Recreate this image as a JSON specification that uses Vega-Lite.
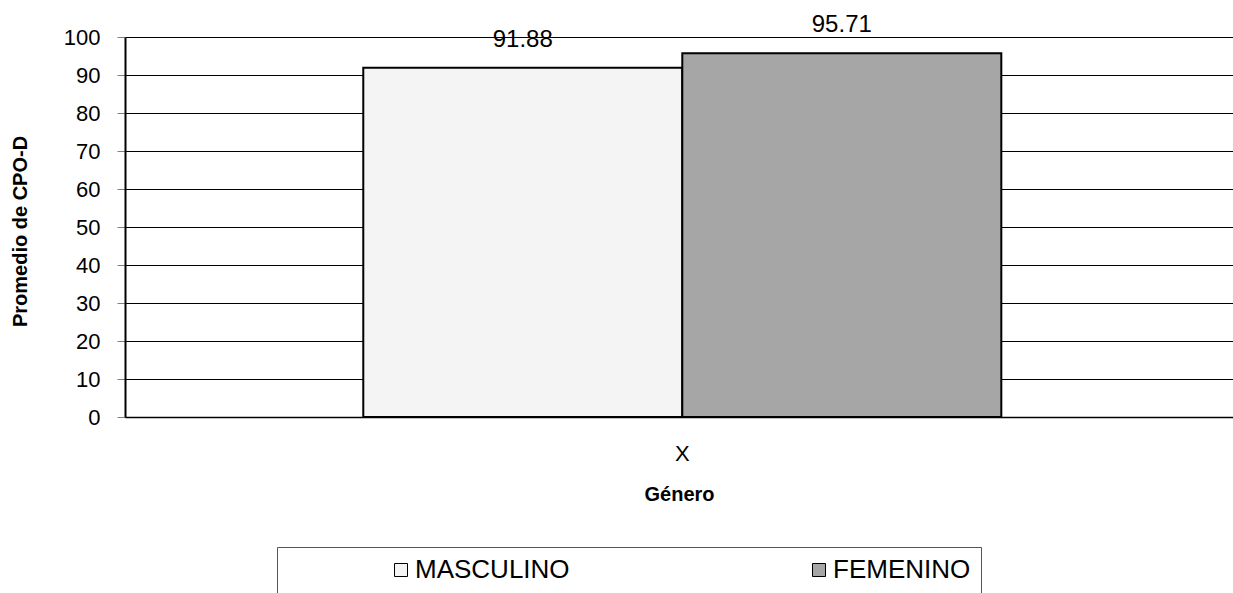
{
  "$schema": "https://vega.github.io/schema/vega-lite/v6.json",
  "width": 1108,
  "height": 380,
  "autosize": {"type": "none"},
  "padding": {"left": 125, "top": 37, "right": 0, "bottom": 176},
  "background": "white",
  "config": {
    "font": "Liberation Sans",
    "view": {"stroke": null}
  },
  "data": {
    "values": [
      {"cat": "X", "genero": "MASCULINO", "valor": 91.88},
      {"cat": "X", "genero": "FEMENINO", "valor": 95.71}
    ]
  },
  "encoding": {
    "x": {
      "field": "cat",
      "type": "nominal",
      "scale": {"paddingInner": 0, "paddingOuter": 0.3683, "align": 0.507},
      "axis": {
        "title": "Género",
        "labelAngle": 0,
        "labelFontSize": 22,
        "labelColor": "black",
        "ticks": false,
        "labelPadding": 26,
        "domainColor": "black",
        "domainWidth": 1.5,
        "titleFontSize": 20,
        "titleFontWeight": "bold",
        "titlePadding": 20,
        "titleColor": "black"
      }
    },
    "xOffset": {
      "field": "genero",
      "type": "nominal",
      "sort": ["MASCULINO", "FEMENINO"],
      "scale": {"paddingInner": 0, "paddingOuter": 0}
    },
    "y": {
      "field": "valor",
      "type": "quantitative",
      "scale": {"domain": [0, 100]},
      "axis": {
        "values": [0, 10, 20, 30, 40, 50, 60, 70, 80, 90, 100],
        "grid": true,
        "gridColor": "black",
        "gridWidth": 1,
        "gridOpacity": 1,
        "domainColor": "black",
        "domainWidth": 2,
        "ticks": true,
        "tickSize": 8,
        "tickColor": "#808080",
        "labelFontSize": 22,
        "labelPadding": 17,
        "labelColor": "black",
        "title": "Promedio de CPO-D",
        "titleFontSize": 20,
        "titleFontWeight": "bold",
        "titlePadding": 33,
        "titleY": 194,
        "titleColor": "black"
      }
    }
  },
  "layer": [
    {
      "mark": {"type": "bar", "stroke": "black", "strokeWidth": 2},
      "encoding": {
        "fill": {
          "field": "genero",
          "type": "nominal",
          "sort": ["MASCULINO", "FEMENINO"],
          "scale": {"domain": ["MASCULINO", "FEMENINO"], "range": ["#f4f4f4", "#a6a6a6"]},
          "legend": {
            "orient": "none",
            "legendX": 152,
            "legendY": 510,
            "direction": "horizontal",
            "columns": 2,
            "gridAlign": "all",
            "title": null,
            "symbolType": "square",
            "symbolSize": 169,
            "symbolStrokeColor": "black",
            "symbolStrokeWidth": 1,
            "symbolOffset": 101,
            "labelOffset": 1,
            "labelFontSize": 26,
            "labelColor": "black",
            "columnPadding": 135,
            "padding": 10,
            "strokeColor": "#555555",
            "fillColor": "white"
          }
        }
      }
    },
    {
      "mark": {"type": "text", "dy": -21, "baseline": "alphabetic", "fontSize": 24, "color": "black"},
      "encoding": {
        "text": {"field": "valor", "type": "quantitative", "format": ".2f"}
      }
    }
  ]
}
